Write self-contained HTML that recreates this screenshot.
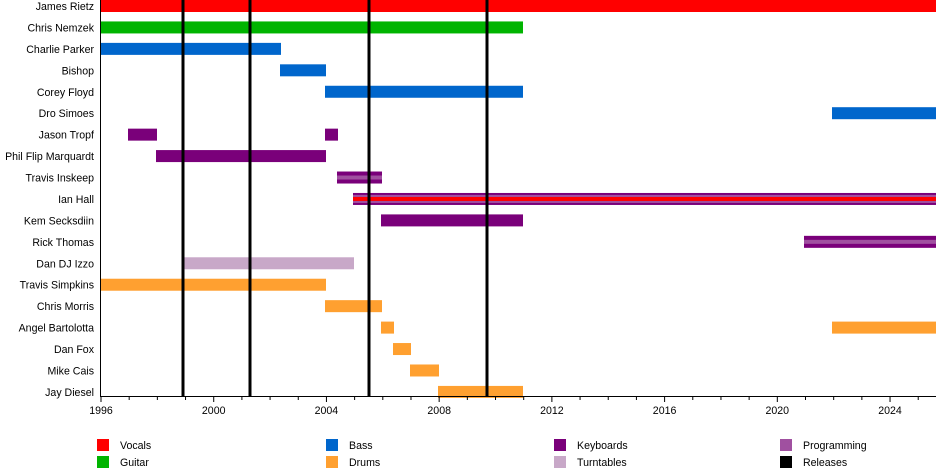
<!DOCTYPE html><html><head><style>body{margin:0;background:#fff}svg{display:block}text{font-family:"Liberation Sans",sans-serif;font-size:10.6px;fill:#000}</style></head><body>
<svg width="950" height="476" xmlns="http://www.w3.org/2000/svg">
<g text-anchor="end">
<text x="94" y="10">James Rietz</text>
<text x="94" y="31.4">Chris Nemzek</text>
<text x="94" y="52.9">Charlie Parker</text>
<text x="94" y="74.3">Bishop</text>
<text x="94" y="95.8">Corey Floyd</text>
<text x="94" y="117.2">Dro Simoes</text>
<text x="94" y="138.6">Jason Tropf</text>
<text x="94" y="160.1">Phil Flip Marquardt</text>
<text x="94" y="181.5">Travis Inskeep</text>
<text x="94" y="203">Ian Hall</text>
<text x="94" y="224.4">Kem Secksdiin</text>
<text x="94" y="245.8">Rick Thomas</text>
<text x="94" y="267.3">Dan DJ Izzo</text>
<text x="94" y="288.7">Travis Simpkins</text>
<text x="94" y="310.2">Chris Morris</text>
<text x="94" y="331.6">Angel Bartolotta</text>
<text x="94" y="353">Dan Fox</text>
<text x="94" y="374.5">Mike Cais</text>
<text x="94" y="395.9">Jay Diesel</text>
</g>
<rect x="101" y="0" width="835" height="12" fill="#ff0000"/>
<rect x="101" y="21.44" width="422" height="12" fill="#00b400"/>
<rect x="101" y="42.88" width="180" height="12" fill="#0066cc"/>
<rect x="280" y="64.32" width="46" height="12" fill="#0066cc"/>
<rect x="325" y="85.76" width="198" height="12" fill="#0066cc"/>
<rect x="832" y="107.2" width="104" height="12" fill="#0066cc"/>
<rect x="128" y="128.64" width="29" height="12" fill="#7a007a"/>
<rect x="325" y="128.64" width="13" height="12" fill="#7a007a"/>
<rect x="156" y="150.08" width="170" height="12" fill="#7a007a"/>
<rect x="337" y="171.52" width="45" height="12" fill="#7a007a"/>
<rect x="337" y="175.52" width="45" height="4" fill="#a050a0"/>
<rect x="353" y="192.96" width="583" height="12" fill="#7a007a"/>
<rect x="353" y="194.96" width="583" height="8" fill="#a050a0"/>
<rect x="353" y="196.96" width="583" height="4" fill="#ff0000"/>
<rect x="381" y="214.4" width="142" height="12" fill="#7a007a"/>
<rect x="804" y="235.84" width="132" height="12" fill="#7a007a"/>
<rect x="804" y="239.84" width="132" height="4" fill="#a050a0"/>
<rect x="184" y="257.28" width="170" height="12" fill="#c8a8c8"/>
<rect x="101" y="278.72" width="225" height="12" fill="#ffa030"/>
<rect x="325" y="300.16" width="57" height="12" fill="#ffa030"/>
<rect x="381" y="321.6" width="13" height="12" fill="#ffa030"/>
<rect x="832" y="321.6" width="104" height="12" fill="#ffa030"/>
<rect x="393" y="343.04" width="18" height="12" fill="#ffa030"/>
<rect x="410" y="364.48" width="29" height="12" fill="#ffa030"/>
<rect x="438" y="385.92" width="85" height="12" fill="#ffa030"/>
<g fill="#000">
<rect x="181.5" y="0" width="3" height="396"/>
<rect x="248.5" y="0" width="3" height="396"/>
<rect x="367.5" y="0" width="3" height="396"/>
<rect x="485.5" y="0" width="3" height="396"/>
</g>
<line x1="100.5" y1="0" x2="100.5" y2="397" stroke="#000"/>
<line x1="100" y1="396.5" x2="936" y2="396.5" stroke="#000"/>
<path stroke="#000" d="M129.18 396V400M157.36 396V400M185.54 396V400M241.9 396V400M270.08 396V400M298.26 396V400M354.62 396V400M382.8 396V400M410.98 396V400M467.34 396V400M495.52 396V400M523.7 396V400M580.06 396V400M608.24 396V400M636.42 396V400M692.78 396V400M720.96 396V400M749.14 396V400M805.5 396V400M833.68 396V400M861.86 396V400M918.22 396V400M101 396V402M213.72 396V402M326.44 396V402M439.16 396V402M551.88 396V402M664.6 396V402M777.32 396V402M890.04 396V402"/>
<g text-anchor="middle">
<text x="101" y="414">1996</text><text x="213.7" y="414">2000</text><text x="326.4" y="414">2004</text><text x="439.2" y="414">2008</text><text x="551.9" y="414">2012</text><text x="664.6" y="414">2016</text><text x="777.3" y="414">2020</text><text x="890" y="414">2024</text>
</g>
<rect x="97" y="439" width="12" height="12" fill="#ff0000"/><text x="120" y="449">Vocals</text>
<rect x="97" y="456" width="12" height="12" fill="#00b400"/><text x="120" y="466">Guitar</text>
<rect x="326" y="439" width="12" height="12" fill="#0066cc"/><text x="349" y="449">Bass</text>
<rect x="326" y="456" width="12" height="12" fill="#ffa030"/><text x="349" y="466">Drums</text>
<rect x="554" y="439" width="12" height="12" fill="#7a007a"/><text x="577" y="449">Keyboards</text>
<rect x="554" y="456" width="12" height="12" fill="#c8a8c8"/><text x="577" y="466">Turntables</text>
<rect x="780" y="439" width="12" height="12" fill="#a050a0"/><text x="803" y="449">Programming</text>
<rect x="780" y="456" width="12" height="12" fill="#000"/><text x="803" y="466">Releases</text>
</svg></body></html>
